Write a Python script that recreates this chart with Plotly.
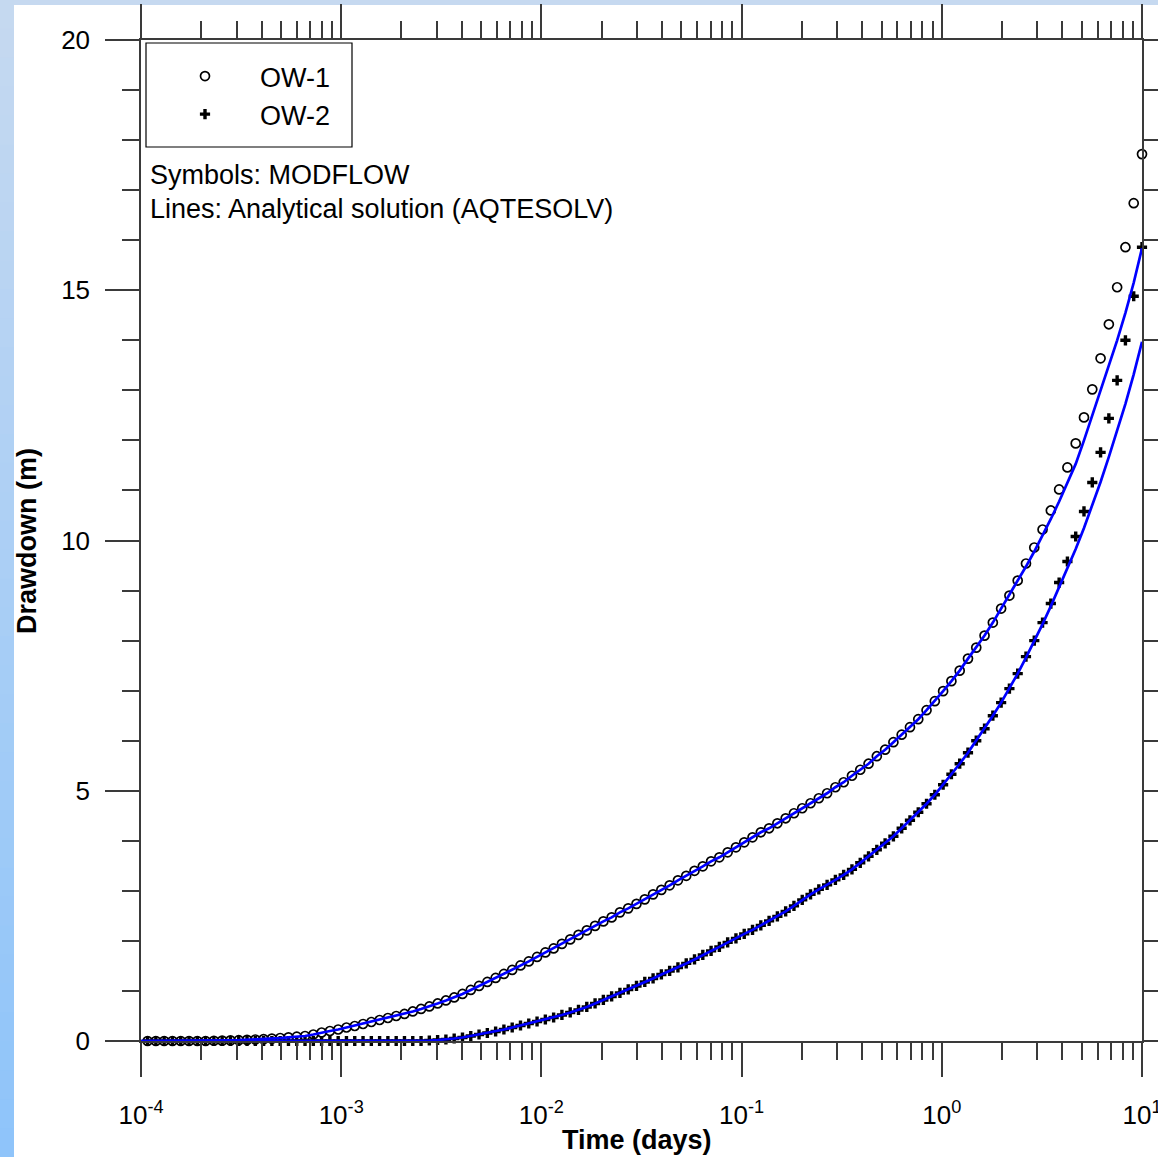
import plotly.graph_objects as go

# ---------------- data ----------------
time_days = [
    1.0786e-4, 1.1865e-4, 1.3052e-4, 1.4357e-4, 1.5792e-4, 1.7371e-4, 1.9108e-4, 2.1019e-4, 2.3122e-4, 2.5434e-4,
    2.7977e-4, 3.0775e-4, 3.3853e-4, 3.7238e-4, 4.0961e-4, 4.5057e-4, 4.9563e-4, 5.4520e-4, 5.9972e-4, 6.5969e-4,
    7.2565e-4, 7.9822e-4, 8.7805e-4, 9.6585e-4, 1.0624e-3, 1.1687e-3, 1.2855e-3, 1.4141e-3, 1.5555e-3, 1.7111e-3,
    1.8822e-3, 2.0704e-3, 2.2774e-3, 2.5052e-3, 2.7556e-3, 3.0312e-3, 3.3343e-3, 3.6678e-3, 4.0346e-3, 4.4380e-3,
    4.8818e-3, 5.3700e-3, 5.9070e-3, 6.4977e-3, 7.1475e-3, 7.8623e-3, 8.6484e-3, 9.5133e-3, 1.0465e-2, 1.1511e-2,
    1.2662e-2, 1.3929e-2, 1.5321e-2, 1.6853e-2, 1.8539e-2, 2.0393e-2, 2.2432e-2, 2.4675e-2, 2.7143e-2, 2.9857e-2,
    3.2843e-2, 3.6127e-2, 3.9740e-2, 4.3714e-2, 4.8085e-2, 5.2894e-2, 5.8183e-2, 6.4001e-2, 7.0401e-2, 7.7441e-2,
    8.5185e-2, 9.3704e-2, 0.10307, 0.11338, 0.12472, 0.13719, 0.15091, 0.16600, 0.18260, 0.20086,
    0.22095, 0.24305, 0.26735, 0.29408, 0.32349, 0.35584, 0.39142, 0.43057, 0.47363, 0.52099,
    0.57309, 0.63040, 0.69343, 0.76278, 0.83905, 0.92295, 1.0152, 1.1168, 1.2285, 1.3513,
    1.4864, 1.6351, 1.7986, 1.9785, 2.1763, 2.3939, 2.6333, 2.8966, 3.1863, 3.5049,
    3.8554, 4.2410, 4.6651, 5.1316, 5.6447, 6.2092, 6.8301, 7.5131, 8.2645, 9.0909,
    10.0,
]

ow1_modflow = [
    0, 0, 0, 0, 0, 0, 0, 0, 0.005, 0.008,
    0.012, 0.016, 0.022, 0.03, 0.038, 0.048, 0.06, 0.072, 0.086, 0.10,
    0.13, 0.17, 0.20, 0.23, 0.27, 0.30, 0.34, 0.38, 0.42, 0.46,
    0.50, 0.54, 0.59, 0.64, 0.69, 0.75, 0.81, 0.87, 0.94, 1.02,
    1.10, 1.18, 1.26, 1.34, 1.42, 1.51, 1.59, 1.68, 1.77, 1.85,
    1.94, 2.03, 2.12, 2.21, 2.30, 2.39, 2.47, 2.57, 2.65, 2.74,
    2.83, 2.93, 3.02, 3.11, 3.21, 3.30, 3.40, 3.49, 3.59, 3.67,
    3.77, 3.87, 3.97, 4.07, 4.17, 4.25, 4.35, 4.45, 4.55, 4.65,
    4.75, 4.85, 4.95, 5.07, 5.17, 5.30, 5.42, 5.54, 5.69, 5.82,
    5.97, 6.12, 6.27, 6.43, 6.61, 6.79, 6.99, 7.19, 7.40, 7.64,
    7.86, 8.10, 8.36, 8.64, 8.90, 9.20, 9.54, 9.86, 10.22, 10.60,
    11.02, 11.46, 11.94, 12.46, 13.02, 13.64, 14.32, 15.06, 15.86, 16.74,
    17.72,
]

ow2_modflow = [
    0, 0, 0, 0, 0, 0, 0, 0, 0, 0,
    0, 0, 0, 0, 0, 0, 0, 0, 0, 0,
    0, 0, 0, 0, 0, 0, 0, 0, 0, 0,
    0, 0, 0, 0, 0.01, 0.02, 0.03, 0.05, 0.07, 0.10,
    0.13, 0.16, 0.19, 0.23, 0.27, 0.31, 0.35, 0.39, 0.43, 0.47,
    0.52, 0.57, 0.62, 0.68, 0.75, 0.82, 0.89, 0.96, 1.03, 1.10,
    1.18, 1.25, 1.33, 1.40, 1.47, 1.55, 1.63, 1.72, 1.80, 1.88,
    1.97, 2.05, 2.14, 2.22, 2.31, 2.40, 2.49, 2.59, 2.70, 2.82,
    2.93, 3.03, 3.12, 3.22, 3.32, 3.43, 3.56, 3.69, 3.82, 3.95,
    4.09, 4.25, 4.41, 4.57, 4.74, 4.92, 5.12, 5.33, 5.54, 5.76,
    6.00, 6.24, 6.50, 6.76, 7.04, 7.34, 7.68, 8.00, 8.36, 8.74,
    9.16, 9.58, 10.08, 10.58, 11.16, 11.76, 12.44, 13.20, 14.00, 14.88,
    15.86,
]

# analytical (AQTESOLV) curves: start at t = 1e-4, then same times as above
line_time_days = [1.0e-4] + time_days

ow1_analytical = [0.0] + [
    0, 0, 0, 0, 0, 0, 0, 0, 0.005, 0.008,
    0.012, 0.016, 0.022, 0.03, 0.038, 0.048, 0.06, 0.072, 0.086, 0.10,
    0.13, 0.17, 0.20, 0.23, 0.27, 0.30, 0.34, 0.38, 0.42, 0.46,
    0.50, 0.54, 0.59, 0.64, 0.69, 0.75, 0.81, 0.87, 0.94, 1.02,
    1.10, 1.18, 1.26, 1.34, 1.42, 1.51, 1.59, 1.68, 1.77, 1.85,
    1.94, 2.03, 2.12, 2.21, 2.30, 2.39, 2.47, 2.57, 2.65, 2.74,
    2.83, 2.93, 3.02, 3.11, 3.21, 3.30, 3.40, 3.49, 3.59, 3.67,
    3.77, 3.87, 3.97, 4.07, 4.17, 4.25, 4.35, 4.45, 4.55, 4.65,
    4.75, 4.85, 4.95, 5.07, 5.17, 5.30, 5.42, 5.54, 5.69, 5.82,
    5.97, 6.12, 6.27, 6.43, 6.61, 6.79, 6.99, 7.19, 7.40, 7.64,
    7.86, 8.10, 8.36, 8.64, 8.90, 9.18, 9.48, 9.78, 10.10, 10.43,
    10.78, 11.14, 11.53, 12.00, 12.50, 12.98, 13.47, 14.00, 14.55, 15.15,
    15.84,
]

ow2_analytical = [0.0] + [
    0, 0, 0, 0, 0, 0, 0, 0, 0, 0,
    0, 0, 0, 0, 0, 0, 0, 0, 0, 0,
    0, 0, 0, 0, 0, 0, 0, 0, 0, 0,
    0, 0, 0, 0, 0.01, 0.02, 0.03, 0.05, 0.07, 0.10,
    0.13, 0.16, 0.19, 0.23, 0.27, 0.31, 0.35, 0.39, 0.43, 0.47,
    0.52, 0.57, 0.62, 0.68, 0.75, 0.82, 0.89, 0.96, 1.03, 1.10,
    1.18, 1.25, 1.33, 1.40, 1.47, 1.55, 1.63, 1.72, 1.80, 1.88,
    1.97, 2.05, 2.14, 2.22, 2.31, 2.40, 2.49, 2.59, 2.70, 2.82,
    2.93, 3.03, 3.12, 3.22, 3.32, 3.43, 3.56, 3.69, 3.82, 3.95,
    4.09, 4.25, 4.41, 4.57, 4.74, 4.92, 5.12, 5.33, 5.54, 5.76,
    6.00, 6.24, 6.50, 6.76, 7.04, 7.34, 7.66, 7.99, 8.33, 8.69,
    9.06, 9.43, 9.83, 10.25, 10.70, 11.17, 11.67, 12.19, 12.73, 13.32,
    13.97,
]

x_tick_values = [1e-4, 1e-3, 1e-2, 1e-1, 1e0, 1e1]
x_tick_labels = ["10<sup>-4</sup>", "10<sup>-3</sup>", "10<sup>-2</sup>",
                 "10<sup>-1</sup>", "10<sup>0</sup>", "10<sup>1</sup>"]
y_tick_values = [0, 5, 10, 15, 20]
y_tick_labels = ["0", "5", "10", "15", "20"]

# ---------------- figure ----------------
FONT = "Liberation Sans, Arial, Helvetica, sans-serif"
TICKC = "#3a3a3a"

fig = go.Figure()

fig.add_trace(go.Scatter(
    x=time_days, y=ow1_modflow, mode="markers", name="OW-1",
    legendgroup="a",
    marker=dict(symbol="circle-open", size=9, color="black", line=dict(width=1.7, color="black")),
    cliponaxis=False,
))
fig.add_trace(go.Scatter(
    x=time_days, y=ow2_modflow, mode="markers", name="OW-2",
    legendgroup="b",
    marker=dict(symbol="cross", size=8.5, color="black", line=dict(width=0)),
    cliponaxis=False,
))
fig.add_trace(go.Scatter(
    x=line_time_days, y=ow1_analytical, mode="lines", showlegend=False,
    line=dict(color="#0000ff", width=2.7), cliponaxis=False,
))
fig.add_trace(go.Scatter(
    x=line_time_days, y=ow2_analytical, mode="lines", showlegend=False,
    line=dict(color="#0000ff", width=2.7), cliponaxis=False,
))

minor_x = [m * 10 ** e for e in range(-4, 1) for m in range(2, 10)]

axis_common = dict(
    ticks="outside", ticklen=34, tickwidth=1.5, tickcolor=TICKC,
    showline=True, linecolor=TICKC, linewidth=1.5, mirror="ticks",
    showgrid=False, zeroline=False, automargin=False,
    ticklabeloverflow="allow",
    tickfont=dict(family=FONT, size=26, color="black"),
)

fig.update_xaxes(
    type="log", range=[-4, 1],
    tickmode="array", tickvals=x_tick_values, ticktext=x_tick_labels,
    minor=dict(tickvals=minor_x, ticks="outside", ticklen=17, tickwidth=1.5, tickcolor=TICKC),
    ticklabelstandoff=16,
    **axis_common,
)
fig.update_yaxes(
    range=[0, 20],
    tickmode="array", tickvals=y_tick_values, ticktext=y_tick_labels,
    minor=dict(dtick=1, ticks="outside", ticklen=17, tickwidth=1.5, tickcolor=TICKC),
    ticklabelstandoff=10,
    **axis_common,
)

# geometry helpers (plot area: x 141..1142 px, y 40..1041 px)
def px(xp):
    return (xp - 141) / 1001.0

def py(yp):
    return (1041 - yp) / 1001.0

shapes = []
# top strip
shapes.append(dict(type="rect", xref="paper", yref="paper", x0=px(-2), x1=px(1160),
                   y0=py(5), y1=py(-2), fillcolor="#c6d9f0", line=dict(width=0), layer="below"))
# left strip gradient
n_bands = 40
c_top = (0xc6, 0xd9, 0xf0)
c_bot = (0x8e, 0xc4, 0xfa)
for i in range(n_bands):
    f = (i + 0.5) / n_bands
    col = "rgb(%d,%d,%d)" % tuple(round(a + (b - a) * f) for a, b in zip(c_top, c_bot))
    y0p = 1157 * i / n_bands
    y1p = 1157 * (i + 1) / n_bands + 1
    shapes.append(dict(type="rect", xref="paper", yref="paper", x0=px(-2), x1=px(14),
                       y0=py(y1p), y1=py(y0p), fillcolor=col, line=dict(width=0), layer="below"))
# legend box
shapes.append(dict(type="rect", xref="paper", yref="paper", x0=px(146), x1=px(352),
                   y0=py(147), y1=py(43), line=dict(color="black", width=1.2),
                   fillcolor="rgba(0,0,0,0)", layer="above"))

annotations = [
    dict(text="Symbols: MODFLOW", xref="paper", yref="paper", x=px(148), y=py(175),
         xanchor="left", yanchor="middle", showarrow=False,
         font=dict(family=FONT, size=27, color="black")),
    dict(text="Lines: Analytical solution (AQTESOLV)", xref="paper", yref="paper", x=px(148), y=py(209),
         xanchor="left", yanchor="middle", showarrow=False,
         font=dict(family=FONT, size=27, color="black")),
    dict(text="<b>Time (days)</b>", xref="paper", yref="paper", x=px(637), y=py(1140),
         xanchor="center", yanchor="middle", showarrow=False,
         font=dict(family=FONT, size=27, color="black")),
    dict(text="<b>Drawdown (m)</b>", xref="paper", yref="paper", x=px(27), y=py(541),
         xanchor="center", yanchor="middle", showarrow=False, textangle=-90,
         font=dict(family=FONT, size=27, color="black")),
]

fig.update_layout(
    width=1158, height=1157, autosize=False,
    margin=dict(l=141, r=16, t=40, b=116, pad=0, autoexpand=False),
    paper_bgcolor="white", plot_bgcolor="white",
    font=dict(family=FONT, size=26, color="black"),
    showlegend=True,
    legend=dict(x=px(150), y=py(52), xanchor="left", yanchor="top",
                bgcolor="rgba(0,0,0,0)", borderwidth=0,
                font=dict(family=FONT, size=27, color="black"),
                itemwidth=100, traceorder="grouped", tracegroupgap=0),
    shapes=shapes,
    annotations=annotations,
)

fig.write_html("out.html")
